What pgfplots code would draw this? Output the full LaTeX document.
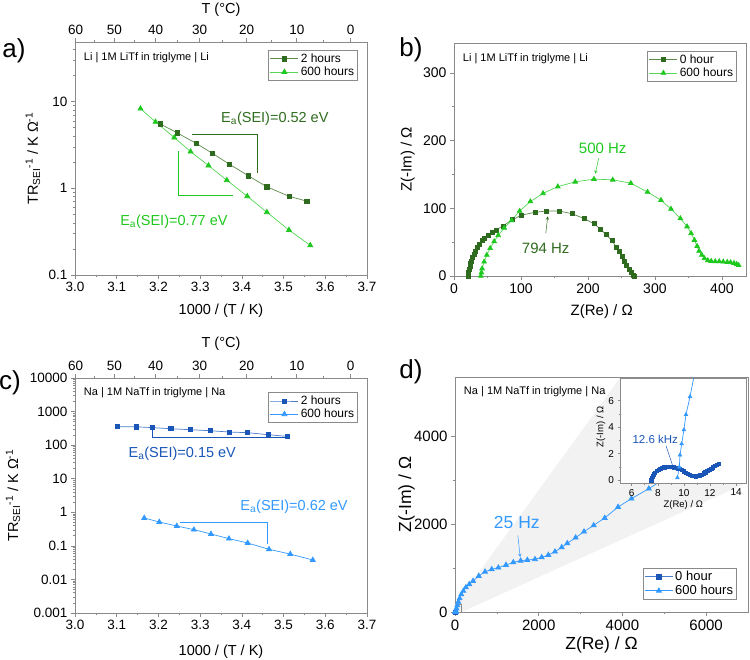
\documentclass[border=0pt]{standalone}
\usepackage{fontspec}
\setmainfont{Liberation Sans}
\usepackage{pgfplots}
\pgfplotsset{compat=1.18}
\definecolor{dg}{HTML}{2E6B1E}
\definecolor{dgl}{HTML}{5B8A4B}
\definecolor{lg}{HTML}{1EC81E}
\definecolor{lgl}{HTML}{55D655}
\definecolor{db}{HTML}{1A56B8}
\definecolor{dbl}{HTML}{4A7CCB}
\definecolor{lb}{HTML}{3399FF}
\definecolor{fr}{HTML}{8A8A8A}
\newcommand{\fs}[1]{\fontsize{#1}{#1}\selectfont}
\pgfplotsset{
  base/.style={scale only axis, anchor=south west,
    axis line style={fr, line width=0.8pt},
    tick style={fr, line width=0.6pt}, tick align=outside,
    major tick length=4pt, minor tick length=2.2pt,
    tick label style={font=\fs{13.5}},
    label style={font=\fs{14.5}},
    /pgf/number format/assume math mode=true,
    /pgf/number format/1000 sep={},
    legend cell align=left,
    legend style={font=\fs{12}, draw=fr, line width=0.6pt, inner sep=1.5pt, row sep=-1pt},
    legend image code/.code={\draw[mark repeat=2,mark phase=2] plot coordinates {(0pt,0pt) (14pt,0pt) (28pt,0pt)};},
    every axis plot/.append style={line width=0.7pt},
  },
  topT/.style={scale only axis, anchor=south west, xmin=3.0, xmax=3.7, ymin=0, ymax=1,
    axis x line*=top, hide y axis,
    axis line style={fr, line width=0.8pt},
    tick style={fr, line width=0.6pt}, tick align=outside,
    major tick length=4pt, minor tick length=2.2pt,
    tick label style={font=\fs{13.5}}, label style={font=\fs{14.5}},
    xtick={3.0016,3.0945,3.1934,3.2987,3.4112,3.5317,3.6610},
    xticklabels={60,50,40,30,20,10,0},
    minor xtick={3.0474,3.1432,3.2452,3.3540,3.4704,3.5951},
    xlabel={T (°C)},
  },
  sqA/.style={dgl, mark=square*, mark size=2.1pt, mark options={fill=dg, draw=dg}},
  trA/.style={lgl, mark=triangle*, mark size=2.9pt, mark options={fill=lg, draw=lg}},
  sqB/.style={dbl, mark=square*, mark size=2.1pt, mark options={fill=db, draw=db}},
  trB/.style={lb, mark=triangle*, mark size=2.9pt, mark options={fill=lb, draw=lb}},
}
\begin{document}
\begin{tikzpicture}[x=1pt,y=1pt]
\useasboundingbox (0,0) rectangle (750,-659);
% ---------------- a) ----------------
\begin{axis}[base, at={(75pt,-275pt)}, width=292pt, height=233pt,
  xmin=3.0, xmax=3.7, ymode=log, ymin=0.1, ymax=48.7,
  xtick={3.0,3.1,3.2,3.3,3.4,3.5,3.6,3.7},
  xticklabels={3.0,3.1,3.2,3.3,3.4,3.5,3.6,3.7},
  minor xtick={3.05,3.15,3.25,3.35,3.45,3.55,3.65},
  ytick={0.1,1,10}, yticklabels={0.1,1,10},
  minor ytick={0.2,0.3,0.4,0.5,0.6,0.7,0.8,0.9,2,3,4,5,6,7,8,9,20,30,40},
  xtick pos=bottom, ytick pos=left,
  xlabel={1000 / (T / K)},
  ylabel={TR\textsubscript{SEI}\textsuperscript{-1} / K Ω\textsuperscript{-1}},
  xlabel style={at={(axis description cs:0.5,-0.155)}, anchor=center},
  ylabel style={at={(axis description cs:-0.144,0.5)}, anchor=center},
  legend style={at={(0.969,0.966)}, anchor=north east}]
\addplot[sqA] coordinates {(3.204,5.53)(3.245,4.36)(3.290,3.31)(3.330,2.52)(3.370,1.90)(3.416,1.39)(3.460,1.04)(3.513,0.81)(3.556,0.71)};
\addlegendentry{2 hours}
\addplot[trA] coordinates {(3.157,8.3)(3.193,5.83)(3.238,3.85)(3.277,2.65)(3.320,1.83)(3.364,1.24)(3.413,0.81)(3.460,0.53)(3.513,0.33)(3.564,0.22)};
\addlegendentry{600 hours}
\draw[dg, line width=0.7pt] (axis cs:3.28,4.2) -- (axis cs:3.4376,4.2) -- (axis cs:3.4376,1.5);
\node[dg, anchor=west, font=\fs{14.5}, inner sep=0pt] at (axis cs:3.35,6.4) {E\textsubscript{a}(SEI)=0.52 eV};
\draw[lg, line width=0.7pt] (axis cs:3.248,2.66) -- (axis cs:3.248,0.84) -- (axis cs:3.378,0.84);
\node[lg, anchor=west, font=\fs{14.5}, inner sep=0pt] at (axis cs:3.108,0.415) {E\textsubscript{a}(SEI)=0.77 eV};
\node[anchor=west, font=\fs{11}, inner sep=0pt] at (rel axis cs:0.03,0.931) {Li | 1M LiTf in triglyme | Li};
\end{axis}
\begin{axis}[topT, at={(75pt,-275pt)}, width=292pt, height=233pt,
  xlabel style={at={(axis description cs:0.5,1.138)}, anchor=center}]
\end{axis}
% ---------------- b) ----------------
\begin{axis}[base, at={(454pt,-276pt)}, width=292pt, height=233pt,
  xmin=0, xmax=436, ymin=0, ymax=344,
  xtick={0,100,200,300,400}, ytick={0,100,200,300},
  minor x tick num=1, minor y tick num=1,
  xtick pos=bottom, ytick pos=left,
  tick label style={font=\fs{14}},
  label style={font=\fs{15}},
  xlabel={Z(Re) / Ω}, ylabel={Z(-Im) / Ω},
  xlabel style={at={(axis description cs:0.506,-0.153)}, anchor=center},
  ylabel style={at={(axis description cs:-0.158,0.5)}, anchor=center},
  legend style={at={(0.969,0.966)}, anchor=north east}]
\addplot[sqA, mark size=2pt] coordinates {(21,0)(21.5,3)(22,6)(23,10)(24,14)(25,18)(26.5,22)(28,27)(30,32)(32.5,37)(35,42)(38,47)(42,52)(46,56)(51,60)(57,64)(63,68)(73,74)(87,83)(101,90)(121,94)(138,96)(157,96)(176,92)(194,85)(209,77)(219,69)(227,61)(236,52)(242,43)(247,36)(251,29)(255,22)(258,16)(262,10)(265,5)(268,1.5)(270,0)};
\addlegendentry{0 hour}
\addplot[trA, mark size=2.7pt] coordinates {(40,0)(41,5)(42,11)(45,21)(49,31)(54,41)(60,51)(66,60)(75,71)(86,82)(98,96)(114,110)(133,122)(155,132)(181,139)(209,143)(237,142)(264,137)(289,124)(309,112)(324,99)(338,85)(348,73)(354,63)(359,53)(363,44)(366,37)(370,31)(374,26)(379,23)(384,22)(390,21.5)(396,21.5)(402,21)(408,20.5)(413,20)(418,19)(422,17.5)(425,16)};
\addlegendentry{600 hours}
\node[lg, font=\fs{15}] at (axis cs:222,188) {500 Hz};
\draw[lg, line width=0.5pt, -stealth] (axis cs:216,174) -- (axis cs:211,151);
\node[dg, font=\fs{15}] at (axis cs:137,41) {794 Hz};
\draw[dg, line width=0.5pt, -stealth] (axis cs:137,63) -- (axis cs:140,88);
\node[anchor=west, font=\fs{11}, inner sep=0pt] at (rel axis cs:0.03,0.931) {Li | 1M LiTf in triglyme | Li};
\end{axis}
% ---------------- c) ----------------
\begin{axis}[base, at={(75pt,-613pt)}, width=292pt, height=235pt,
  xmin=3.0, xmax=3.7, ymode=log, ymin=0.001, ymax=10000,
  xtick={3.0,3.1,3.2,3.3,3.4,3.5,3.6,3.7},
  xticklabels={3.0,3.1,3.2,3.3,3.4,3.5,3.6,3.7},
  minor xtick={3.05,3.15,3.25,3.35,3.45,3.55,3.65},
  ytick={0.001,0.01,0.1,1,10,100,1000,10000}, yticklabels={0.001,0.01,0.1,1,10,100,1000,10000},
  minor ytick={0.002,0.003,0.004,0.005,0.006,0.007,0.008,0.009,0.02,0.03,0.04,0.05,0.06,0.07,0.08,0.09,0.2,0.3,0.4,0.5,0.6,0.7,0.8,0.9,2,3,4,5,6,7,8,9,20,30,40,50,60,70,80,90,200,300,400,500,600,700,800,900,2000,3000,4000,5000,6000,7000,8000,9000},
  xtick pos=bottom, ytick pos=left,
  xlabel={1000 / (T / K)},
  ylabel={TR\textsubscript{SEI}\textsuperscript{-1} / K Ω\textsuperscript{-1}},
  xlabel style={at={(axis description cs:0.5,-0.165)}, anchor=center},
  ylabel style={at={(axis description cs:-0.212,0.5)}, anchor=center},
  legend style={at={(0.969,0.94)}, anchor=north east}]
\addplot[sqB] coordinates {(3.102,356)(3.148,352)(3.186,332)(3.230,309)(3.276,288)(3.324,269)(3.370,246)(3.414,235)(3.464,204)(3.510,182)};
\addlegendentry{2 hours}
\addplot[trB] coordinates {(3.166,0.676)(3.202,0.514)(3.244,0.39)(3.285,0.304)(3.326,0.226)(3.369,0.164)(3.414,0.122)(3.465,0.079)(3.516,0.057)(3.570,0.038)};
\addlegendentry{600 hours}
\draw[db, line width=0.7pt] (axis cs:3.186,300) -- (axis cs:3.186,167) -- (axis cs:3.505,167);
\node[db, anchor=west, font=\fs{14.5}, inner sep=0pt] at (axis cs:3.128,56) {E\textsubscript{a}(SEI)=0.15 eV};
\draw[lb, line width=0.7pt] (axis cs:3.252,0.50) -- (axis cs:3.462,0.50) -- (axis cs:3.462,0.116);
\node[lb, anchor=west, font=\fs{14.5}, inner sep=0pt] at (axis cs:3.396,1.44) {E\textsubscript{a}(SEI)=0.62 eV};
\node[anchor=west, font=\fs{11}, inner sep=0pt] at (rel axis cs:0.03,0.936) {Na | 1M NaTf in triglyme | Na};
\end{axis}
\begin{axis}[topT, at={(75pt,-613pt)}, width=292pt, height=235pt,
  xlabel style={at={(axis description cs:0.5,1.145)}, anchor=center}]
\end{axis}
% ---------------- d) ----------------
\begin{axis}[base, at={(455pt,-612pt)}, width=293pt, height=235pt,
  xmin=0, xmax=7000, ymin=0, ymax=5350,
  xtick={0,2000,4000,6000}, ytick={0,2000,4000},
  minor x tick num=1, minor y tick num=1,
  xtick pos=bottom, ytick pos=left,
  tick label style={font=\fs{15}},
  label style={font=\fs{17.5}},
  xlabel={Z(Re) / Ω}, ylabel={Z(-Im) / Ω},
  xlabel style={at={(axis description cs:0.5,-0.14)}, anchor=center},
  ylabel style={at={(axis description cs:-0.165,0.5)}, anchor=center},
  legend style={at={(0.962,0.051)}, anchor=south east, font=\fs{13}}]
\fill[black!5] (axis cs:0,150) -- (axis cs:3942,5327) -- (axis cs:6964,2937) -- (axis cs:160,0) -- (axis cs:0,0) -- cycle;
\draw[fr, line width=0.6pt] (axis cs:20,0) rectangle (axis cs:160,170);
\addplot[sqB] coordinates {(7.5,0.0)(7.62,0.3)(7.8,0.58)(8.05,0.8)(8.35,0.94)(8.65,1.0)(8.95,1.02)(9.25,0.98)(9.55,0.9)(9.85,0.77)(10.15,0.58)(10.45,0.41)(10.75,0.31)(11.05,0.32)(11.35,0.44)(11.65,0.6)(11.95,0.78)(12.25,0.98)(12.55,1.18)};
\addlegendentry{0 hour}
\addplot[trB] coordinates {(9.5,0.2)(9.65,1.0)(9.7,1.9)(9.83,2.75)(10.0,3.8)(10.16,4.95)(10.47,6.3)(10.85,8.2)(20,20)(35,80)(55,150)(80,230)(110,310)(150,400)(200,480)(260,560)(340,630)(431,706)(567,820)(717,917)(877,972)(1035,1009)(1218,1070)(1393,1131)(1569,1168)(1728,1184)(1911,1200)(2071,1245)(2229,1298)(2389,1373)(2549,1473)(2683,1564)(2882,1693)(3082,1829)(3313,1973)(3577,2140)(3896,2391)(4216,2581)(4631,2808)(5200,3150)};
\addlegendentry{600 hours}
\node[lb, font=\fs{17.5}] at (axis cs:1477,2049) {25 Hz};
\draw[lb, line width=0.5pt, -stealth] (axis cs:1501,1746) -- (axis cs:1557,1252);
\node[anchor=west, font=\fs{11}, inner sep=0pt] at (rel axis cs:0.03,0.937) {Na | 1M NaTf in triglyme | Na};
\end{axis}
% inset
\begin{axis}[base, at={(620pt,-483pt)}, width=126.5pt, height=105pt,
  xmin=5.1, xmax=14.8, ymin=-0.2, ymax=7.7,
  xtick={6,8,10,12,14}, ytick={0,2,4,6},
  minor x tick num=1, minor y tick num=1,
  major tick length=2.5pt, minor tick length=1.5pt,
  xtick pos=bottom, ytick pos=left,
  tick label style={font=\fs{10}},
  label style={font=\fs{9.5}},
  axis background/.style={fill=white},
  xlabel={Z(Re) / Ω}, ylabel={Z(-Im) / Ω},
  xlabel style={at={(axis description cs:0.5,-0.21)}, anchor=center},
  ylabel style={at={(axis description cs:-0.15,0.536)}, anchor=center}]
\addplot[sqB, mark size=1.6pt] coordinates {(7.5,0.0)(7.55,0.15)(7.62,0.3)(7.7,0.45)(7.8,0.58)(7.92,0.7)(8.05,0.8)(8.2,0.88)(8.35,0.94)(8.5,0.98)(8.65,1.0)(8.8,1.02)(8.95,1.02)(9.1,1.0)(9.25,0.98)(9.4,0.95)(9.55,0.9)(9.7,0.84)(9.85,0.77)(10.0,0.68)(10.15,0.58)(10.3,0.49)(10.45,0.41)(10.6,0.35)(10.75,0.31)(10.9,0.3)(11.05,0.32)(11.2,0.37)(11.35,0.44)(11.5,0.52)(11.65,0.6)(11.8,0.69)(11.95,0.78)(12.1,0.88)(12.25,0.98)(12.4,1.08)(12.55,1.18)(12.65,1.25)};
\addplot[trB, mark size=2pt] coordinates {(9.5,0.2)(9.65,1.0)(9.7,1.9)(9.83,2.75)(10.0,3.8)(10.16,4.95)(10.47,6.3)(10.85,8.2)};
\node[db, font=\fs{11.5}] at (axis cs:7.8,3.1) {12.6 kHz};
\draw[db, line width=0.5pt] (axis cs:8.63,2.6) -- (axis cs:9.14,1.1);
\end{axis}
% panel letters
\node[font=\fs{26}] at (14,-51) {a)};
\node[font=\fs{26}] at (411,-50) {b)};
\node[font=\fs{26}] at (10,-383) {c)};
\node[font=\fs{26}] at (411,-372) {d)};
\end{tikzpicture}
\end{document}
